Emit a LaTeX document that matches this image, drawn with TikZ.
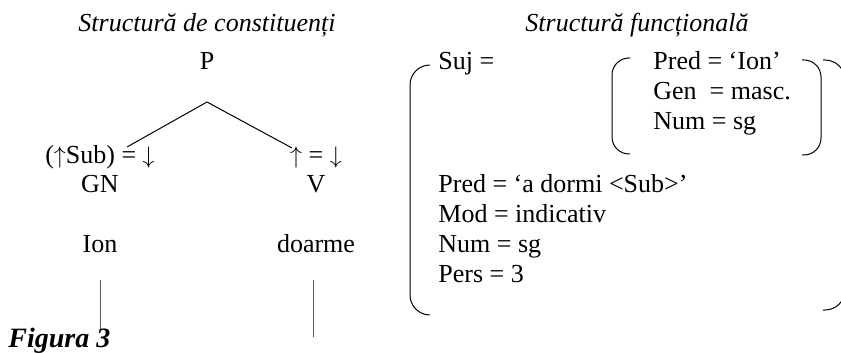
\documentclass[tikz,border=0pt]{standalone}
\usepackage{fontspec}
\setmainfont{Liberation Serif}
\usetikzlibrary{calc}

\begin{document}
\begin{tikzpicture}[x=0.5pt, y=-0.5pt,
    txt/.style={inner sep=0pt, anchor=base, font=\fontsize{13}{15}\selectfont},
    title/.style={txt, font=\fontsize{13}{15}\selectfont\itshape},
    feat/.style={txt, anchor=base west},
    brk/.style={line width=0.5pt, rounded corners=10pt},
    sbrk/.style={line width=0.5pt, rounded corners=8.5pt}]
    \clip (0,0) rectangle (841,353);
    % titles
    \node[title] (t-c) at (207,32) {Structură de constituenți};
    \node[title] (t-f) at (637,32) {Structură funcțională};
    % constituent tree
    \node[txt] (p) at (207,70) {P};
    \coordinate (top) at (207,102);
    \foreach \lset/\x/\fn/\cat/\w in {A/100/(${\uparrow}$Sub) = $\downarrow$/GN/Ion,
                                       B/316/$\uparrow$ = $\downarrow$/V/doarme} {
        \node[txt] (fn-\lset) at (\x,163) {\fn};
        \node[txt] (cat-\lset) at (\x,192) {\cat};
        \node[txt] (w-\lset) at (\x,252) {\w};
    }
    \coordinate (end-A) at (127,147);
    \coordinate (end-B) at (292,148);
    \draw[line width=0.5pt] (top) -- (end-A);
    \draw[line width=0.5pt] (top) -- (end-B);
    \coordinate (stub-A) at (100,280);
    \coordinate (stub-B) at (313,280);
    \draw[line width=0.5pt, gray!70!black] (stub-A) -- ++(0,50);
    \draw[line width=0.5pt, gray!70!black] (stub-B) -- ++(0,57);
    \node[txt, anchor=base west, font=\fontsize{14}{16}\selectfont\bfseries\itshape] (fig) at (8,347) {Figura 3};
    % functional structure
    \node[feat] (suj) at (438,70) {Suj =};
    \foreach[count=\j] \ft in {Pred = ‘Ion’, Gen~ = masc., Num = sg} {
        \node[feat] (in-\j) at (653,40+30*\j) {\ft};
    }
    \foreach[count=\j] \ft in {Pred = ‘a dormi <Sub>’, Mod = indicativ, Num = sg, Pers = 3} {
        \node[feat] (out-\j) at (438,162+30*\j) {\ft};
    }
    \draw[sbrk] (630,58) -- (612,58) -- (612,154) -- (630,154);
    \draw[sbrk] (802,60) -- (821,60) -- (821,155) -- (802,155);
    \draw[brk] (430,65) -- (410,65) -- (410,315) -- (430,315);
    \draw[brk] (823,60) -- (845,60) -- (845,310) -- (823,310);
\end{tikzpicture}
\end{document}
